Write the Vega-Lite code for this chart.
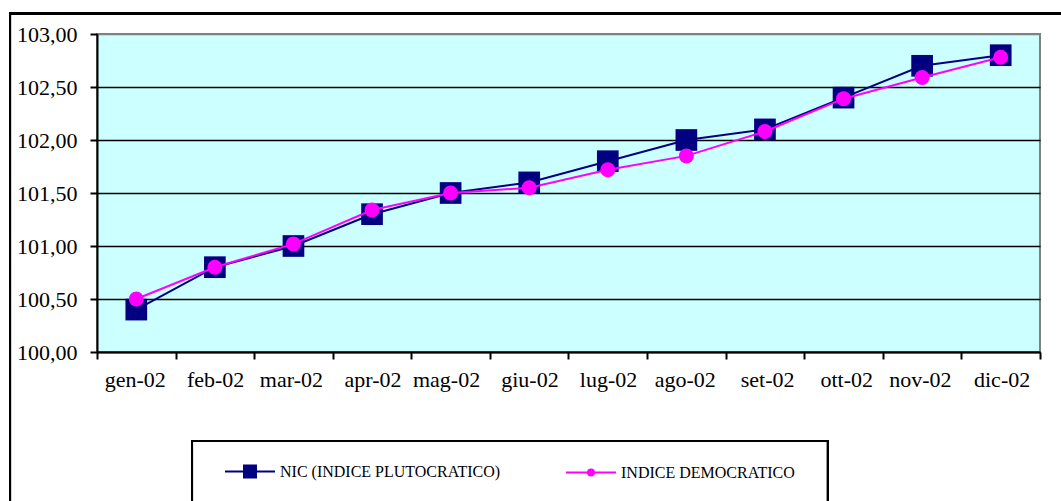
{
  "$schema": "https://vega.github.io/schema/vega-lite/v6.json",
  "autosize": {"type": "none"},
  "padding": {"left": 97, "top": 34, "right": 21, "bottom": 149},
  "width": 943,
  "height": 318,
  "background": "white",
  "data": {
    "values": [
      {"mese": "gen-02", "serie": "NIC (INDICE PLUTOCRATICO)", "valore": 100.40},
      {"mese": "feb-02", "serie": "NIC (INDICE PLUTOCRATICO)", "valore": 100.80},
      {"mese": "mar-02", "serie": "NIC (INDICE PLUTOCRATICO)", "valore": 101.00},
      {"mese": "apr-02", "serie": "NIC (INDICE PLUTOCRATICO)", "valore": 101.30},
      {"mese": "mag-02", "serie": "NIC (INDICE PLUTOCRATICO)", "valore": 101.50},
      {"mese": "giu-02", "serie": "NIC (INDICE PLUTOCRATICO)", "valore": 101.60},
      {"mese": "lug-02", "serie": "NIC (INDICE PLUTOCRATICO)", "valore": 101.80},
      {"mese": "ago-02", "serie": "NIC (INDICE PLUTOCRATICO)", "valore": 102.00},
      {"mese": "set-02", "serie": "NIC (INDICE PLUTOCRATICO)", "valore": 102.10},
      {"mese": "ott-02", "serie": "NIC (INDICE PLUTOCRATICO)", "valore": 102.40},
      {"mese": "nov-02", "serie": "NIC (INDICE PLUTOCRATICO)", "valore": 102.70},
      {"mese": "dic-02", "serie": "NIC (INDICE PLUTOCRATICO)", "valore": 102.80},
      {"mese": "gen-02", "serie": "INDICE DEMOCRATICO", "valore": 100.50},
      {"mese": "feb-02", "serie": "INDICE DEMOCRATICO", "valore": 100.80},
      {"mese": "mar-02", "serie": "INDICE DEMOCRATICO", "valore": 101.02},
      {"mese": "apr-02", "serie": "INDICE DEMOCRATICO", "valore": 101.34},
      {"mese": "mag-02", "serie": "INDICE DEMOCRATICO", "valore": 101.50},
      {"mese": "giu-02", "serie": "INDICE DEMOCRATICO", "valore": 101.55},
      {"mese": "lug-02", "serie": "INDICE DEMOCRATICO", "valore": 101.72},
      {"mese": "ago-02", "serie": "INDICE DEMOCRATICO", "valore": 101.85},
      {"mese": "set-02", "serie": "INDICE DEMOCRATICO", "valore": 102.08},
      {"mese": "ott-02", "serie": "INDICE DEMOCRATICO", "valore": 102.39},
      {"mese": "nov-02", "serie": "INDICE DEMOCRATICO", "valore": 102.59},
      {"mese": "dic-02", "serie": "INDICE DEMOCRATICO", "valore": 102.78}
    ]
  },
  "layer": [
    {
      "description": "outer chart frame",
      "mark": {"type": "rect", "fill": null, "stroke": "black", "strokeWidth": 2},
      "encoding": {
        "x": {"datum": "gen-02", "bandPosition": -1.107},
        "x2": {"datum": "dic-02", "bandPosition": 1.5},
        "y": {"datum": 103.193, "type": "quantitative"},
        "y2": {"datum": 98.4}
      }
    },
    {
      "description": "legend frame",
      "mark": {"type": "rect", "fill": null, "stroke": "black", "strokeWidth": 2},
      "encoding": {
        "x": {"datum": "gen-02", "bandPosition": 1.209},
        "x2": {"datum": "ott-02", "bandPosition": 0.302},
        "y": {"datum": 99.16, "type": "quantitative"},
        "y2": {"datum": 98.4}
      }
    },
    {
      "transform": [{"filter": "datum.serie === 'NIC (INDICE PLUTOCRATICO)'"}],
      "mark": {"type": "line", "strokeWidth": 2},
      "encoding": {
        "x": {
          "field": "mese", "type": "ordinal", "title": null,
          "scale": {
            "domain": ["gen-02", "feb-02", "mar-02", "apr-02", "mag-02", "giu-02", "lug-02", "ago-02", "set-02", "ott-02", "nov-02", "dic-02"],
            "paddingInner": 0, "paddingOuter": 0
          },
          "axis": {"tickBand": "extent", "labelAngle": 0, "labelPadding": 20, "labelOffset": 29, "grid": false}
        },
        "y": {
          "field": "valore", "type": "quantitative", "title": null,
          "scale": {"domain": [100, 103], "nice": false, "zero": false},
          "axis": {
            "values": [100, 100.5, 101, 101.5, 102, 102.5, 103],
            "format": ".2f",
            "grid": true,
            "gridColor": {"condition": {"test": "datum.value >= 103", "value": "#808080"}, "value": "black"},
            "gridWidth": 1.5,
            "labelPadding": 13
          }
        },
        "color": {
          "field": "serie", "type": "nominal", "title": null,
          "scale": {"domain": ["NIC (INDICE PLUTOCRATICO)", "INDICE DEMOCRATICO"], "range": ["#000080", "#FF00FF"]},
          "legend": {
            "orient": "none", "legendX": 128, "legendY": 426.5,
            "direction": "horizontal", "columns": 2, "columnPadding": 61,
            "padding": 0,
            "symbolSize": 400, "symbolStrokeWidth": 2, "symbolOffset": 14,
            "labelOffset": 19, "labelFont": "Liberation Serif", "labelFontSize": 16, "labelColor": "black", "labelLimit": 400,
            "encode": {
              "symbols": {
                "update": {
                  "shape": {"signal": "datum.value === 'NIC (INDICE PLUTOCRATICO)' ? 'M-2.5,0H2.5M-0.6,-0.6H0.6V0.6H-0.6Z' : 'M-2.5,0H2.5M-0.3,0A0.3,0.3,0,1,1,0.3,0A0.3,0.3,0,1,1,-0.3,0Z'"},
                  "fill": {"signal": "datum.value === 'NIC (INDICE PLUTOCRATICO)' ? '#000080' : '#FF00FF'"},
                  "stroke": {"signal": "datum.value === 'NIC (INDICE PLUTOCRATICO)' ? '#000080' : '#FF00FF'"},
                  "opacity": {"value": 1}
                }
              },
              "labels": {
                "update": {
                  "font": {"value": "Liberation Serif"},
                  "fontSize": {"value": 16},
                  "fill": {"value": "black"}
                }
              }
            }
          }
        }
      }
    },
    {
      "transform": [{"filter": "datum.serie === 'NIC (INDICE PLUTOCRATICO)'"}],
      "mark": {"type": "point", "shape": "square", "filled": true, "size": 470, "opacity": 1, "color": "#000080"},
      "encoding": {
        "x": {"field": "mese", "type": "ordinal"},
        "y": {"field": "valore", "type": "quantitative"}
      }
    },
    {
      "transform": [{"filter": "datum.serie === 'INDICE DEMOCRATICO'"}],
      "mark": {"type": "line", "strokeWidth": 2},
      "encoding": {
        "x": {"field": "mese", "type": "ordinal"},
        "y": {"field": "valore", "type": "quantitative"},
        "color": {"field": "serie", "type": "nominal"}
      }
    },
    {
      "transform": [{"filter": "datum.serie === 'INDICE DEMOCRATICO'"}],
      "mark": {"type": "point", "shape": "circle", "filled": true, "size": 225, "opacity": 1, "color": "#FF00FF"},
      "encoding": {
        "x": {"field": "mese", "type": "ordinal"},
        "y": {"field": "valore", "type": "quantitative"}
      }
    }
  ],
  "config": {
    "locale": {"number": {"decimal": ",", "thousands": ".", "grouping": [3], "currency": ["€", ""]}},
    "view": {"fill": "#CCFFFF", "stroke": "#808080", "strokeWidth": 2},
    "axis": {
      "labelFont": "Liberation Serif", "labelFontSize": 22, "labelColor": "black",
      "domainColor": "black", "domainWidth": 2,
      "tickColor": "black", "tickWidth": 2, "tickSize": 7
    },
    "legend": {"labelFont": "Liberation Serif", "labelFontSize": 16, "labelColor": "black"}
  }
}
